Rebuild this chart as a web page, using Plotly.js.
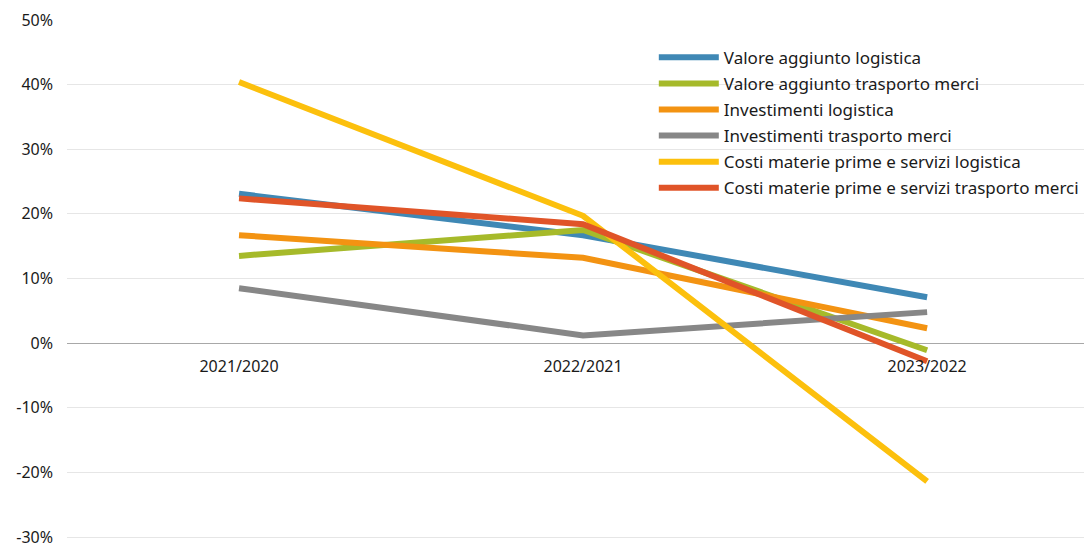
<!DOCTYPE html>
<html><head><meta charset="utf-8">
<script src="https://cdn.plot.ly/plotly-3.0.1.min.js"></script>
<style>html,body{margin:0;padding:0;background:#fff}#c{width:1084px;height:548px}</style>
</head><body><div id="c"></div>
<script>
const categories = ["2021/2020", "2022/2021", "2023/2022"];
const seriesNames = [
  "Valore aggiunto logistica",
  "Valore aggiunto trasporto merci",
  "Investimenti logistica",
  "Investimenti trasporto merci",
  "Costi materie prime e servizi logistica",
  "Costi materie prime e servizi trasporto merci"
];
const valoreAggiuntoLogistica = [23.1, 16.7, 7.1];
const valoreAggiuntoTrasporto = [13.5, 17.5, -1.1];
const investimentiLogistica = [16.7, 13.2, 2.3];
const investimentiTrasporto = [8.5, 1.2, 4.8];
const costiLogistica = [40.4, 19.7, -21.4];
const costiTrasporto = [22.4, 18.4, -2.8];
const yTicks = [-30, -20, -10, 0, 10, 20, 30, 40, 50];
const yTickLabels = ["-30%", "-20%", "-10%", "0%", "10%", "20%", "30%", "40%", "50%"];

const allValues = [valoreAggiuntoLogistica, valoreAggiuntoTrasporto, investimentiLogistica,
  investimentiTrasporto, costiLogistica, costiTrasporto];
const colors = ["#3f88b5", "#a6ba2a", "#f39312", "#878787", "#fcc00d", "#e05428"];

const traces = allValues.map((v, i) => ({
  type: "scatter", mode: "lines", x: categories, y: v, name: seriesNames[i],
  legendgroup: "g" + i,
  line: {color: colors[i], width: 6}, hoverinfo: "skip"
}));

const font = {family: "Noto Sans, Open Sans, sans-serif", size: 16, color: "#1a1a1a"};
const layout = {
  width: 1084, height: 548,
  margin: {l: 67, r: 0, t: 20, b: 8},
  paper_bgcolor: "#fff", plot_bgcolor: "#fff",
  font: font,
  showlegend: true,
  legend: {x: 0.577, y: 0.962, xanchor: "left", yanchor: "top", bgcolor: "rgba(0,0,0,0)",
    font: {family: font.family, size: 17, color: "#1a1a1a"}, itemwidth: 60, tracegroupgap: 1},
  xaxis: {type: "category", range: [-0.5, 2.456], anchor: "free", position: 0.3786,
    showgrid: false, showline: false, ticks: "", zeroline: false, ticklabelstandoff: 12,
    tickfont: {family: font.family, size: 16, color: "#1a1a1a"}, fixedrange: true},
  yaxis: {range: [-30.46, 50], tickvals: yTicks, ticktext: yTickLabels,
    showgrid: true, gridcolor: "#e6e6e6", gridwidth: 1,
    zeroline: true, zerolinecolor: "#a8a8a8", zerolinewidth: 1,
    showline: false, ticks: "", ticklabelstandoff: 13, ticklabeloverflow: "allow",
    tickfont: {family: font.family, size: 16, color: "#1a1a1a"}, fixedrange: true}
};
Plotly.newPlot("c", traces, layout, {displayModeBar: false, staticPlot: true});
</script>
</body></html>
